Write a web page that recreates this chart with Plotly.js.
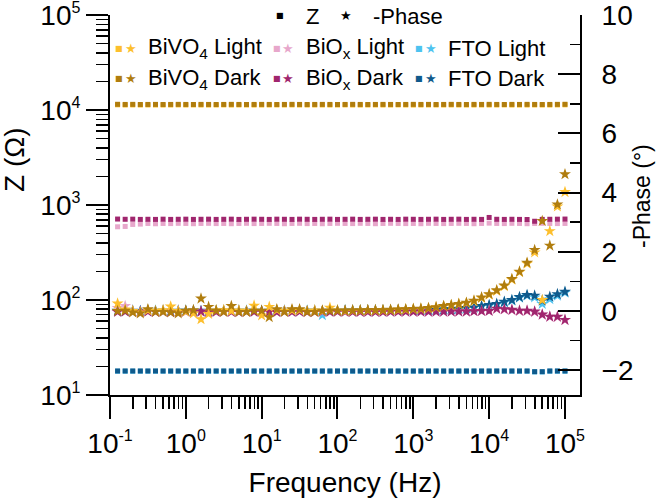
<!DOCTYPE html>
<html>
<head>
<meta charset="utf-8">
<script src="https://cdn.plot.ly/plotly-3.0.1.min.js"></script>
<style>html,body{margin:0;padding:0;background:#fff;}#chart{width:658px;height:498px;}</style>
</head>
<body>
<div id="chart"></div>
<script>
// Frequencies (Hz), 10 points per decade
const freq = [0.1259,0.1585,0.1995,0.2512,0.3162,0.3981,0.5012,0.6310,0.7943,
  1.000,1.259,1.585,1.995,2.512,3.162,3.981,5.012,6.310,7.943,
  10.00,12.59,15.85,19.95,25.12,31.62,39.81,50.12,63.10,79.43,
  100.0,125.9,158.5,199.5,251.2,316.2,398.1,501.2,631.0,794.3,
  1000,1259,1585,1995,2512,3162,3981,5012,6310,7943,
  10000,12589,15849,19953,25119,31623,39811,50119,63096,79433,100000];

// |Z| (ohm)
const zBiVO4Light = [11350,11300,11320,11300,11310,11300,11290,11300,11320,11300,
  11310,11300,11290,11300,11320,11300,11310,11300,11290,11300,
  11300,11310,11300,11320,11300,11290,11300,11310,11300,11300,
  11320,11300,11290,11300,11310,11300,11300,11320,11300,11290,
  11300,11310,11300,11300,11320,11300,11290,11300,11310,11300,
  11300,11320,11300,11290,11300,11310,11300,11300,11320,11350];
const zBiVO4Dark = [11500,11460,11480,11450,11460,11470,11450,11460,11480,11460,
  11450,11470,11460,11440,11460,11480,11460,11450,11460,11470,
  11460,11450,11460,11480,11460,11450,11460,11470,11460,11450,
  11460,11480,11460,11450,11460,11470,11460,11450,11460,11480,
  11460,11470,11450,11460,11480,11460,11450,11470,11460,11480,
  11460,11450,11470,11460,11480,11460,11450,11460,11480,11500];
const zBiOxLight = [590,595,625,630,640,635,640,638,642,640,
  636,640,642,638,640,636,640,642,638,640,
  642,640,636,640,642,638,640,636,640,642,
  640,638,642,640,636,640,642,640,638,640,
  636,642,640,638,640,642,640,636,640,645,
  640,638,642,640,636,640,642,640,638,640];
const zBiOxDark = [712,708,710,706,708,706,710,706,708,710,
  706,708,710,706,708,710,706,708,710,708,
  706,710,708,706,710,708,706,708,710,706,
  708,710,706,708,710,706,708,706,710,708,
  706,708,710,706,708,710,706,708,706,740,
  708,706,708,706,704,675,706,708,710,712];
const zFTOLight = [17.8,17.8,17.8,17.8,17.8,17.8,17.8,17.8,17.8,17.8,
  17.8,17.8,17.8,17.8,17.8,17.8,17.8,17.8,17.8,17.8,
  17.8,17.8,17.8,17.8,17.8,17.8,17.8,17.8,17.8,17.8,
  17.8,17.8,17.8,17.8,17.8,17.8,17.8,17.8,17.8,17.8,
  17.8,17.8,17.8,17.8,17.8,17.8,17.8,17.8,17.8,17.8,
  17.8,17.8,17.8,17.8,17.8,17.5,17.5,17.8,17.8,17.8];
const zFTODark = [17.9,17.9,17.9,17.9,17.9,17.9,17.9,17.9,17.9,17.9,
  17.9,17.9,17.9,17.9,17.9,17.9,17.9,17.9,17.9,17.9,
  17.9,17.9,17.9,17.9,17.9,17.9,17.9,17.9,17.9,17.9,
  17.9,17.9,17.9,17.9,17.9,17.9,17.9,17.9,17.9,17.9,
  17.9,17.9,17.9,17.9,17.9,17.9,17.9,17.9,17.9,17.9,
  17.9,17.9,17.9,17.9,17.9,17.6,17.6,17.9,17.9,17.9];

// -Phase (deg)
const pBiVO4Light = [0.25,0.05,0.00,-0.05,0.02,0.00,0.03,0.15,0.00,-0.02,
  -0.08,-0.28,-0.10,0.02,0.03,0.00,0.02,0.00,0.18,-0.15,
  0.14,0.03,0.00,0.02,0.03,0.00,0.02,0.00,0.11,0.02,
  0.00,0.01,0.01,0.02,0.02,0.02,0.03,0.04,0.05,0.06,
  0.07,0.09,0.12,0.16,0.19,0.23,0.27,0.33,0.44,0.55,
  0.68,0.84,1.06,1.31,1.60,1.98,0.37,2.70,3.53,4.02];
const pBiVO4Dark = [0.00,0.01,-0.05,-0.08,0.06,-0.03,-0.03,-0.05,-0.08,0.01,
  0.03,0.42,0.14,0.01,-0.03,0.17,-0.03,-0.03,0.01,0.01,
  -0.21,0.06,-0.03,0.06,0.06,-0.03,-0.03,0.01,0.01,0.01,
  0.01,0.02,0.02,0.03,0.03,0.03,0.04,0.05,0.06,0.07,
  0.08,0.10,0.13,0.17,0.20,0.24,0.28,0.35,0.46,0.57,
  0.70,0.86,1.08,1.33,1.63,2.06,3.04,2.21,3.60,4.62];
const pBiOxLight = [0.10,0.17,0.00,-0.03,0.00,-0.02,0.00,-0.03,0.00,-0.02,
  0.00,-0.03,0.00,-0.02,0.00,-0.03,0.00,-0.02,0.00,-0.03,
  0.00,-0.02,0.00,-0.03,0.00,-0.02,0.00,-0.03,0.00,-0.02,
  -0.02,-0.02,-0.03,-0.02,-0.02,-0.03,-0.02,-0.02,-0.02,-0.02,
  -0.02,-0.02,-0.02,-0.02,-0.01,-0.01,-0.01,0.00,0.00,0.02,
  0.07,0.05,0.03,0.00,0.00,-0.04,-0.13,-0.20,-0.21,-0.31];
const pBiOxDark = [-0.03,-0.02,-0.03,-0.04,-0.02,-0.03,-0.02,-0.04,-0.03,-0.02,
  -0.03,-0.02,-0.04,-0.03,-0.02,-0.03,-0.04,-0.02,-0.03,-0.02,
  -0.03,-0.04,-0.02,-0.03,-0.02,-0.04,-0.03,-0.02,-0.03,-0.02,
  -0.03,-0.03,-0.03,-0.03,-0.03,-0.03,-0.02,-0.02,-0.02,-0.02,
  -0.02,-0.02,-0.02,-0.02,-0.02,-0.02,-0.02,-0.01,0.00,0.00,
  0.08,0.06,0.04,0.01,0.01,-0.02,-0.12,-0.19,-0.19,-0.30];
const pFTOLight = [0.00,0.01,0.00,-0.01,0.00,0.01,0.00,-0.01,0.00,0.01,
  0.00,-0.01,0.00,0.01,0.00,-0.01,0.00,0.01,0.00,-0.01,
  0.00,0.01,0.00,-0.01,0.00,0.01,0.00,-0.14,0.00,0.01,
  0.01,0.01,0.01,0.01,0.01,0.01,0.02,0.02,0.02,0.03,
  0.03,0.03,0.04,0.04,0.05,0.07,0.09,0.11,0.15,0.18,
  0.22,0.29,0.35,0.45,0.52,0.46,0.24,0.40,0.52,0.62];
const pFTODark = [0.01,0.00,0.01,0.00,0.01,0.00,0.01,0.00,0.01,0.00,
  0.01,0.00,0.01,0.00,0.01,0.00,0.01,0.00,0.01,0.00,
  0.01,0.00,0.01,0.00,0.01,0.00,0.01,0.00,0.01,0.00,
  0.01,0.01,0.01,0.02,0.02,0.02,0.02,0.03,0.03,0.03,
  0.04,0.04,0.04,0.05,0.06,0.08,0.10,0.12,0.17,0.20,
  0.24,0.31,0.37,0.47,0.54,0.52,0.35,0.48,0.57,0.65];

const seriesNames = ['FTO Light','FTO Dark','BiO<sub>x</sub> Light','BiO<sub>x</sub> Dark','BiVO<sub>4</sub> Light','BiVO<sub>4</sub> Dark'];
const seriesColors = ['#4dc3f0','#0f5a8c','#e7a7cb','#a0266e','#fdbf2d','#b07d0e'];
const zSeries = [zFTOLight,zFTODark,zBiOxLight,zBiOxDark,zBiVO4Light,zBiVO4Dark];
const pSeries = [pFTOLight,pFTODark,pBiOxLight,pBiOxDark,pBiVO4Light,pBiVO4Dark];

const xTickVals = [0.1,1,10,100,1000,10000,100000];
const xExponents = ['-1','0','1','2','3','4','5'];
const yTickVals = [10,100,1000,10000,100000];
const yExponents = ['1','2','3','4','5'];
const y2TickVals = [-2,0,2,4,6,8,10];

const FONT = 'Liberation Sans, Arial, sans-serif';
function powLabel(e){return '10<sup><span style="font-size:16px">'+e+'</span></sup>';}

function minorLog(lo, hi){
  const v=[];
  for(let e=lo;e<hi;e++){for(let d=2;d<=9;d++){v.push(d*Math.pow(10,e));}}
  return v;
}

const traces = [];
for(let s=0;s<6;s++){
  traces.push({x:freq,y:zSeries[s],type:'scatter',mode:'markers',yaxis:'y',
    marker:{symbol:'square',size:5,color:seriesColors[s],line:{width:0}},showlegend:false,hoverinfo:'skip'});
}
for(let s=0;s<6;s++){
  traces.push({x:freq,y:pSeries[s],type:'scatter',mode:'markers',yaxis:'y2',
    marker:{symbol:'star',size:9,color:seriesColors[s],line:{width:0}},showlegend:false,hoverinfo:'skip'});
}

// Legend and axis titles built from annotations (paper coords)
const annotations = [];
function px2x(px){return (px-110)/470;}
function py2y(py){return (395-py)/380;}
function addEntry(sqx, stx, tx, py, color, label){
  annotations.push({xref:'paper',yref:'paper',x:px2x(sqx),y:py2y(py),text:'■',showarrow:false,
    font:{family:'DejaVu Sans',size:8,color:color},xanchor:'center',yanchor:'middle'});
  annotations.push({xref:'paper',yref:'paper',x:px2x(stx),y:py2y(py),text:'★',showarrow:false,
    font:{family:'DejaVu Sans',size:13,color:color},xanchor:'center',yanchor:'middle'});
  if(label) annotations.push({xref:'paper',yref:'paper',x:px2x(tx),y:py2y(py),text:label,showarrow:false,
    font:{family:FONT,size:22,color:'#000'},xanchor:'left',yanchor:'middle'});
}
// header
addEntry(280, 346, 0, 15, '#000', null);
annotations.push({xref:'paper',yref:'paper',x:px2x(304),y:py2y(16),text:'Z',showarrow:false,
  font:{family:FONT,size:22,color:'#000'},xanchor:'left',yanchor:'middle'});
annotations.push({xref:'paper',yref:'paper',x:px2x(371),y:py2y(16),text:'-Phase',showarrow:false,
  font:{family:FONT,size:22,color:'#000'},xanchor:'left',yanchor:'middle'});
// rows
const colSq=[119,277,419], colSt=[131,288,431], colTx=[146,304,446];
const rowLight=[4,2,0], rowDark=[5,3,1];
for(let c=0;c<3;c++){
  addEntry(colSq[c],colSt[c],colTx[c],48,seriesColors[rowLight[c]],seriesNames[rowLight[c]]);
  addEntry(colSq[c],colSt[c],colTx[c],79,seriesColors[rowDark[c]],seriesNames[rowDark[c]]);
}
// axis titles
annotations.push({xref:'paper',yref:'paper',x:px2x(14),y:py2y(160),text:'Z (Ω)',textangle:-90,showarrow:false,
  font:{family:FONT,size:28,color:'#000'},xanchor:'center',yanchor:'middle'});
annotations.push({xref:'paper',yref:'paper',x:px2x(642),y:py2y(196),text:'-Phase (°)',textangle:-90,showarrow:false,
  font:{family:FONT,size:23,color:'#000'},xanchor:'center',yanchor:'middle'});

const layout = {
  width:658,height:498,
  margin:{l:110,r:78,t:15,b:103,pad:0},
  paper_bgcolor:'#fff',plot_bgcolor:'#fff',
  font:{family:FONT,size:28,color:'#000'},
  xaxis:{type:'log',range:[-1,5.198],showgrid:false,zeroline:false,
    showline:true,linecolor:'#000',linewidth:2,
    tickmode:'array',tickvals:xTickVals,ticktext:xExponents.map(powLabel),ticklabeloverflow:'allow',
    ticks:'outside',ticklen:22,tickwidth:2,tickcolor:'#000',
    tickfont:{family:FONT,size:28,color:'#000'},
    minor:{tickmode:'array',tickvals:minorLog(-1,5),ticks:'outside',ticklen:12,tickwidth:1.5,tickcolor:'#000',showgrid:false},
    title:{text:'Frequency (Hz)',font:{family:FONT,size:28,color:'#000'},standoff:18}},
  yaxis:{type:'log',range:[1,5.0008],showgrid:false,zeroline:false,
    showline:true,linecolor:'#000',linewidth:2,
    tickmode:'array',tickvals:yTickVals,ticktext:yExponents.map(powLabel),ticklabeloverflow:'allow',
    ticks:'outside',ticklen:22,tickwidth:2,tickcolor:'#000',
    tickfont:{family:FONT,size:28,color:'#000'},
    minor:{tickmode:'array',tickvals:minorLog(1,5),ticks:'outside',ticklen:12,tickwidth:1.5,tickcolor:'#000',showgrid:false}},
  yaxis2:{overlaying:'y',side:'right',range:[-2.84,10.003],showgrid:false,zeroline:false,
    showline:true,linecolor:'#000',linewidth:2,
    tickmode:'array',tickvals:y2TickVals,ticklabeloverflow:'allow',
    ticks:'inside',ticklen:22,tickwidth:2,tickcolor:'#000',ticklabelstandoff:14,
    tickfont:{family:FONT,size:28,color:'#000'},
    minor:{dtick:1,ticks:'inside',ticklen:10,tickwidth:1.5,tickcolor:'#000',showgrid:false}},
  annotations:annotations,
  showlegend:false
};

Plotly.newPlot('chart',traces,layout,{staticPlot:true,displayModeBar:false});
</script>
</body>
</html>
